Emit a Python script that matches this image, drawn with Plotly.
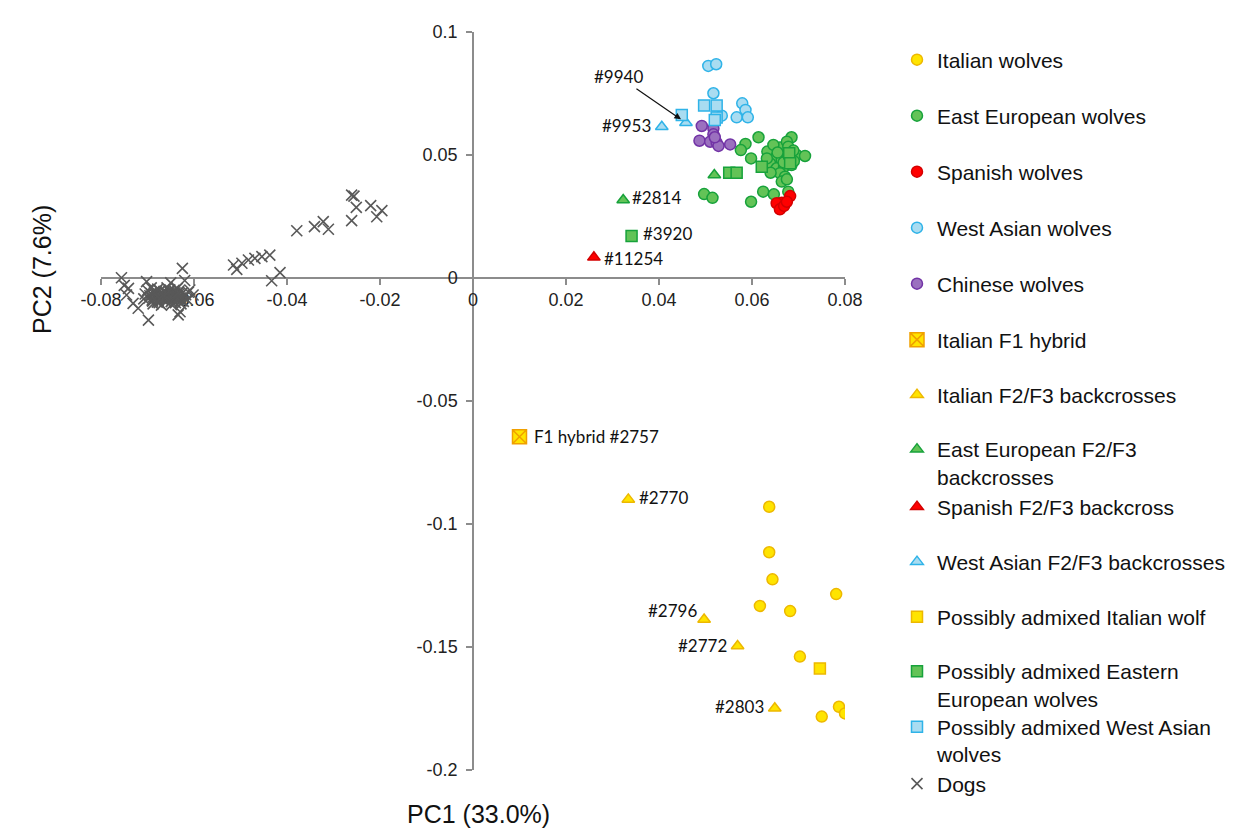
import plotly.graph_objects as go

# ---------------- data (PC1, PC2) ----------------
italian_x = [0.0637, 0.0637, 0.0644, 0.0781, 0.0617, 0.0682, 0.0703, 0.0787, 0.0800, 0.0750]
italian_y = [-0.0930, -0.1115, -0.1225, -0.1285, -0.1333, -0.1354, -0.1539, -0.1743, -0.1770, -0.1783]

ee_x = [0.0614, 0.0586, 0.0576, 0.0598, 0.0633, 0.0660, 0.0685, 0.0675, 0.0653, 0.0664,
        0.0678, 0.0696, 0.0714, 0.0639, 0.0653, 0.0669, 0.0685, 0.0660, 0.0640, 0.0671,
        0.0664, 0.0675, 0.0646, 0.0678, 0.0689, 0.0632, 0.0497, 0.0515, 0.0598, 0.0624,
        0.0647, 0.0678, 0.0668, 0.0690, 0.0655]
ee_y = [0.0572, 0.0545, 0.0520, 0.0486, 0.0514, 0.0530, 0.0572, 0.0554, 0.0493, 0.0480,
        0.0493, 0.0500, 0.0496, 0.0466, 0.0446, 0.0452, 0.0459, 0.0426, 0.0428, 0.0412,
        0.0392, 0.0401, 0.0541, 0.0534, 0.0518, 0.0486, 0.0341, 0.0326, 0.0310, 0.0351,
        0.0340, 0.0351, 0.0470, 0.0475, 0.0510]

spanish_x = [0.0664, 0.0653, 0.0682, 0.0660, 0.0669, 0.0675]
spanish_y = [0.0306, 0.0304, 0.0333, 0.0279, 0.0293, 0.0310]

wa_x = [0.0506, 0.0523, 0.0517, 0.0579, 0.0586, 0.0567, 0.0591, 0.0535]
wa_y = [0.0862, 0.0869, 0.0751, 0.0710, 0.0683, 0.0653, 0.0653, 0.0660]

chinese_x = [0.0492, 0.0517, 0.0517, 0.0487, 0.0510, 0.0524, 0.0528, 0.0553, 0.0520]
chinese_y = [0.0618, 0.0608, 0.0584, 0.0558, 0.0554, 0.0550, 0.0537, 0.0543, 0.0572]

f1_x = [0.0100]
f1_y = [-0.0645]

it_bc_x = [0.0334, 0.0497, 0.0569, 0.0649]
it_bc_y = [-0.0900, -0.1388, -0.1496, -0.1749]
it_bc_ids = ["#2770", "#2796", "#2772", "#2803"]

ee_bc_x = [0.0519, 0.0323]
ee_bc_y = [0.0419, 0.0317]

sp_bc_x = [0.0260]
sp_bc_y = [0.0084]

wa_bc_x = [0.0406, 0.0458]
wa_bc_y = [0.0615, 0.0631]

pa_it_x = [0.0746]
pa_it_y = [-0.1587]

pa_ee_x = [0.0551, 0.0567, 0.0621, 0.0680, 0.0682, 0.0341]
pa_ee_y = [0.0428, 0.0428, 0.0452, 0.0507, 0.0466, 0.0171]

pa_wa_x = [0.0497, 0.0524, 0.0524, 0.0449, 0.0520]
pa_wa_y = [0.0701, 0.0701, 0.0652, 0.0663, 0.0642]

dogs_x = [-0.0261, -0.0256, -0.0251, -0.0220, -0.0196, -0.0207, -0.0261, -0.0379, -0.0341, -0.0322,
          -0.0311, -0.0437, -0.0454, -0.0469, -0.0483, -0.0497, -0.0515, -0.0508, -0.0415, -0.0433,
          -0.0625, -0.0756, -0.0741, -0.0745, -0.0731, -0.0720, -0.0698, -0.0702, -0.0630, -0.0634,
          -0.0609, -0.0602, -0.0750, -0.0650, -0.0620,
          -0.0700, -0.0695, -0.0690, -0.0685, -0.0680, -0.0678, -0.0675, -0.0672, -0.0668, -0.0665,
          -0.0662, -0.0660, -0.0657, -0.0655, -0.0652, -0.0650, -0.0647, -0.0645, -0.0642, -0.0640,
          -0.0638, -0.0635, -0.0632, -0.0630, -0.0627, -0.0625, -0.0622, -0.0618, -0.0615, -0.0612,
          -0.0705, -0.0708, -0.0692, -0.0688, -0.0670, -0.0658, -0.0648, -0.0636, -0.0628, -0.0683,
          -0.0673, -0.0663, -0.0653, -0.0643, -0.0633, -0.0623, -0.0697, -0.0677, -0.0667, -0.0644,
          -0.0693, -0.0687, -0.0681, -0.0676, -0.0671, -0.0666, -0.0661, -0.0656, -0.0651, -0.0646,
          -0.0641, -0.0637, -0.0633, -0.0629, -0.0689, -0.0679, -0.0669, -0.0659, -0.0649, -0.0639,
          -0.0684, -0.0674, -0.0664, -0.0654, -0.0634]
dogs_y = [0.0337, 0.0333, 0.0287, 0.0294, 0.0274, 0.0249, 0.0233, 0.0192, 0.0209, 0.0229,
          0.0198, 0.0093, 0.0087, 0.0080, 0.0073, 0.0060, 0.0053, 0.0035, 0.0022, -0.0011,
          0.0039, 0.0001, -0.0042, -0.0069, -0.0103, -0.0123, -0.0171, -0.0015, -0.0137, -0.0150,
          -0.0049, -0.0069, -0.0030, -0.0020, -0.0010,
          -0.0050, -0.0072, -0.0090, -0.0060, -0.0080, -0.0045, -0.0100, -0.0066, -0.0085, -0.0055,
          -0.0075, -0.0095, -0.0062, -0.0080, -0.0048, -0.0070, -0.0090, -0.0058, -0.0078, -0.0100,
          -0.0065, -0.0085, -0.0052, -0.0072, -0.0092, -0.0060, -0.0080, -0.0068, -0.0088, -0.0058,
          -0.0065, -0.0085, -0.0040, -0.0105, -0.0110, -0.0040, -0.0108, -0.0042, -0.0105, -0.0070,
          -0.0052, -0.0088, -0.0068, -0.0050, -0.0078, -0.0095, -0.0082, -0.0092, -0.0072, -0.0066,
          -0.0062, -0.0076, -0.0056, -0.0070, -0.0082, -0.0064, -0.0058, -0.0086, -0.0074, -0.0082,
          -0.0060, -0.0088, -0.0066, -0.0082, -0.0094, -0.0098, -0.0060, -0.0066, -0.0096, -0.0074,
          -0.0054, -0.0084, -0.0078, -0.0054, -0.0060]

x_ticks = [-0.08, -0.06, -0.04, -0.02, 0, 0.02, 0.04, 0.06, 0.08]
x_tick_text = ["-0.08", "-0.06", "-0.04", "-0.02", "0", "0.02", "0.04", "0.06", "0.08"]
y_ticks = [-0.2, -0.15, -0.1, -0.05, 0, 0.05, 0.1]
y_tick_text = ["-0.2", "-0.15", "-0.1", "-0.05", "0", "0.05", "0.1"]

# ---------------- styling ----------------
YEL_F, YEL_L = "#FFE400", "#EDB800"
GRN_F, GRN_L = "#63C357", "#17A23B"
RED_F, RED_L = "#FF0000", "#D40000"
BLU_F, BLU_L = "#A9DCF1", "#2FB3E8"
PUR_F, PUR_L = "#9B70BF", "#7233A6"
DOG = "#595959"

series = [
    ("Italian wolves", italian_x, italian_y, "circle", YEL_F, YEL_L, 11, False),
    ("East European wolves", ee_x, ee_y, "circle", GRN_F, GRN_L, 11, False),
    ("Spanish wolves", spanish_x, spanish_y, "circle", RED_F, RED_L, 11, False),
    ("West Asian wolves", wa_x, wa_y, "circle", BLU_F, BLU_L, 11, False),
    ("Chinese wolves", chinese_x, chinese_y, "circle", PUR_F, PUR_L, 11, False),
    ("Italian F1 hybrid", f1_x, f1_y, "square-x", YEL_F, "#F0A000", 14, False),
    ("Italian F2/F3 backcrosses", it_bc_x, it_bc_y, "triangle-up", YEL_F, YEL_L, 11, False),
    ("East European F2/F3<br>backcrosses", ee_bc_x, ee_bc_y, "triangle-up", GRN_F, GRN_L, 11, True),
    ("Spanish F2/F3 backcross", sp_bc_x, sp_bc_y, "triangle-up", RED_F, RED_L, 11, False),
    ("West Asian F2/F3 backcrosses", wa_bc_x, wa_bc_y, "triangle-up", BLU_F, BLU_L, 11, False),
    ("Possibly admixed Italian wolf", pa_it_x, pa_it_y, "square", YEL_F, YEL_L, 11, False),
    ("Possibly admixed Eastern<br>European wolves", pa_ee_x, pa_ee_y, "square", GRN_F, GRN_L, 11, True),
    ("Possibly admixed West Asian<br>wolves", pa_wa_x, pa_wa_y, "square", BLU_F, BLU_L, 11, True),
    ("Dogs", dogs_x, dogs_y, "x-thin-open", DOG, DOG, 11, False),
]
# legend text centre (pixel rows of the reference) for each entry
legend_rows = [60, 116, 172, 228, 284, 340, 395, 463, 507, 562, 617, 685, 740.5, 784]

OFF = 8  # page body margin of the browser
W, H = 1235, 834
PW, PH = 744, 738
ML, MT = 101 - OFF, 32 - OFF
MR, MB = W - ML - PW, H - MT - PH

def px_x(p):
    return (p - OFF - ML) / PW

def px_y(p):
    return (MT + PH - (p - OFF)) / PH

fig = go.Figure()
legends = {}
order = [13, 0, 6, 5, 10, 1, 7, 11, 2, 8, 4, 3, 9, 12]
for i in order:
    name, xs, ys, sym, fill, line, size, multi = series[i]
    lname = "legend" if i == 0 else f"legend{i + 1}"
    lw = 1.6 if sym == "x-thin-open" else 1.5
    marker = dict(symbol=sym, size=size, color=fill, line=dict(color=line, width=lw))
    fig.add_trace(go.Scatter(x=xs, y=ys, mode="markers", name=name, marker=marker,
                             legend=lname, showlegend=True))
for i, row in enumerate(legend_rows):
    lname = "legend" if i == 0 else f"legend{i + 1}"
    legends[lname] = dict(
        x=px_x(897), y=px_y(row), xanchor="left", yanchor="middle",
        bgcolor="rgba(0,0,0,0)", borderwidth=0,
        font=dict(family="Liberation Sans, Arial, sans-serif", size=21, color="#111111"),
        valign="top" if series[i][7] else "middle", itemwidth=30,
    )

# point labels
lab_font = dict(family="Lato, Carlito, Calibri, sans-serif", size=17, color="#111111")
anns = []
def label(x, y, text, anchor, xs, ys=0):
    anns.append(dict(x=x, y=y, xref="x", yref="y", text=text, showarrow=False,
                     xanchor=anchor, yanchor="middle", xshift=xs, yshift=ys, font=lab_font))

label(wa_bc_x[0], wa_bc_y[0], "#9953", "right", -9, 1)
label(ee_bc_x[1], ee_bc_y[1], "#2814", "left", 7, 3)
label(pa_ee_x[5], pa_ee_y[5], "#3920", "left", 9, 2)
label(sp_bc_x[0], sp_bc_y[0], "#11254", "left", 8, -1)
label(f1_x[0], f1_y[0], "F1 hybrid #2757", "left", 12, 0)
label(it_bc_x[0], it_bc_y[0], it_bc_ids[0], "left", 9, 2)
label(it_bc_x[1], it_bc_y[1], it_bc_ids[1], "right", -5, 9)
label(it_bc_x[2], it_bc_y[2], it_bc_ids[2], "right", -9, 1)
label(it_bc_x[3], it_bc_y[3], it_bc_ids[3], "right", -9, 2)
anns.append(dict(x=wa_bc_x[1], y=wa_bc_y[1], xref="x", yref="y", text="#9940",
                 showarrow=True, ax=-67, ay=-46, arrowhead=2, arrowsize=1.1,
                 arrowwidth=1.2, arrowcolor="#111111", standoff=6, font=lab_font))

title_font = dict(family="Liberation Sans, Arial, sans-serif", size=25, color="#111111")
anns.append(dict(x=px_x(42), y=px_y(270), xref="paper", yref="paper",
                 text="PC2 (7.6%)", textangle=-90, showarrow=False, font=title_font,
                 xanchor="center", yanchor="middle"))
anns.append(dict(x=px_x(478), y=px_y(814), xref="paper", yref="paper",
                 text="PC1 (33.0%)", showarrow=False, font=title_font,
                 xanchor="center", yanchor="middle"))

tick_font = dict(family="Liberation Sans, Arial, sans-serif", size=18, color="#222222")
axis_style = dict(showgrid=False, zeroline=False, showline=True, linecolor="#8C8C8C", linewidth=1.5,
                  ticks="outside", ticklen=6, tickcolor="#8C8C8C", tickwidth=1.5,
                  tickfont=tick_font, layer="below traces", domain=[0, 1], anchor="free")
fig.update_layout(
    width=W, height=H, margin=dict(l=ML, r=MR, t=MT, b=MB, autoexpand=False),
    paper_bgcolor="white", plot_bgcolor="white",
    xaxis=dict(range=[-0.08, 0.08], position=2 / 3, tickvals=x_ticks, ticktext=x_tick_text, **axis_style),
    yaxis=dict(range=[-0.2, 0.1], position=0.5, tickvals=y_ticks, ticktext=y_tick_text,
               ticklabelstandoff=5, **axis_style),
    annotations=anns,
    **legends,
)

fig.write_html("out.html")
